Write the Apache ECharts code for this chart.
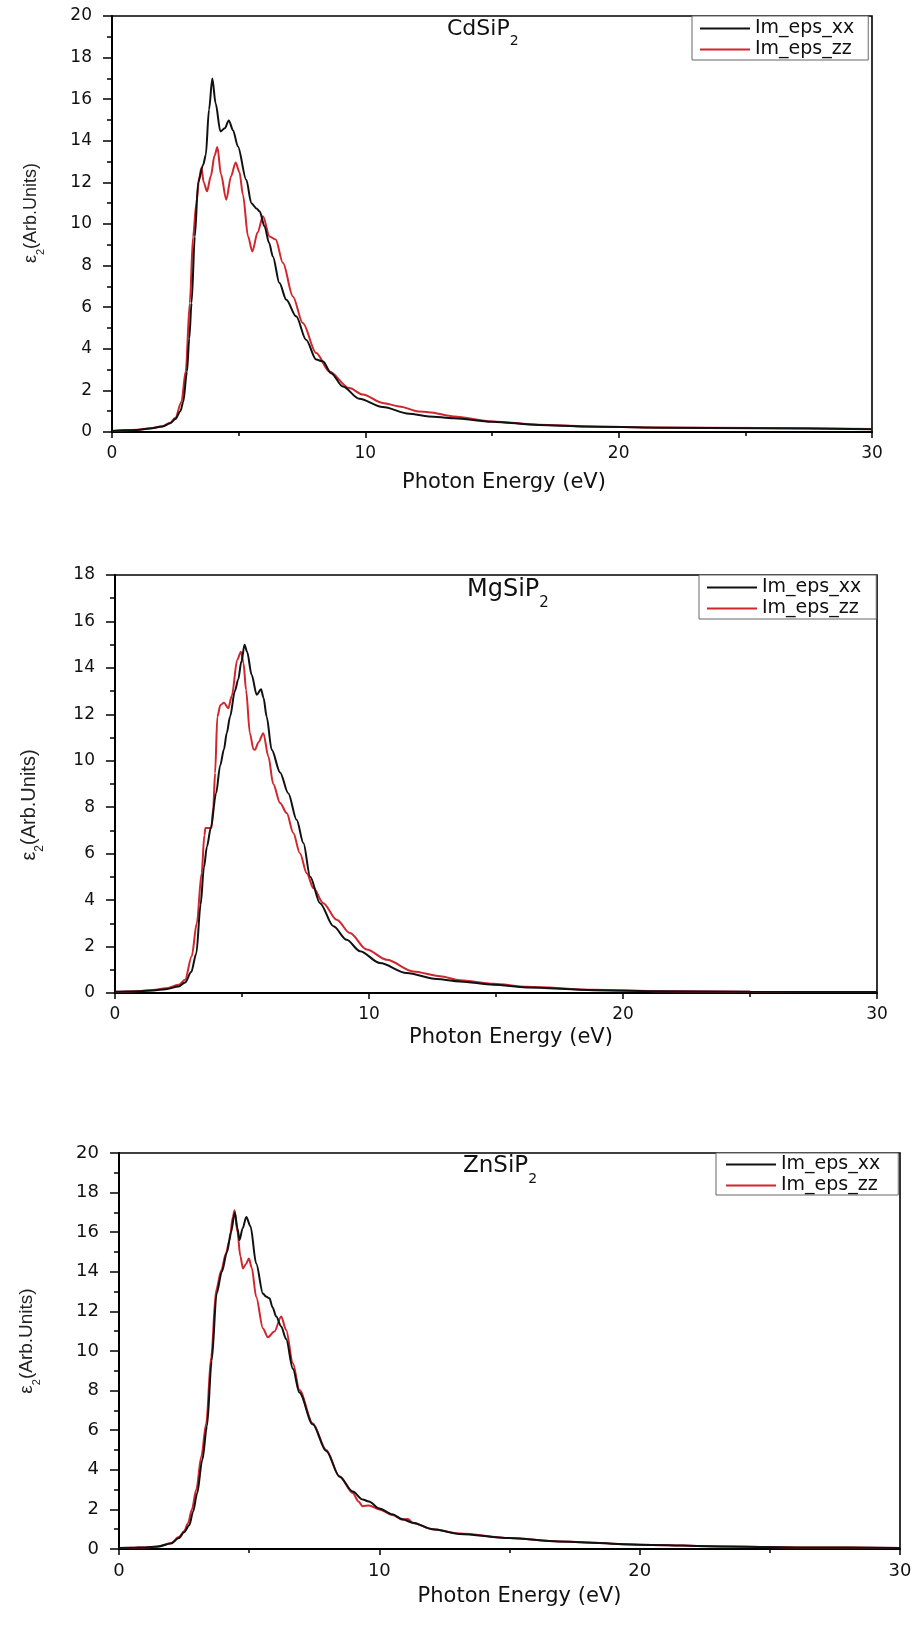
<!DOCTYPE html>
<html><head><meta charset="utf-8">
<script src="https://cdn.jsdelivr.net/npm/echarts@6/dist/echarts.min.js"></script>
<style>html,body{margin:0;padding:0;background:#fff}#c{width:920px;height:1642px}</style>
</head><body><div id="c"></div>
<script>
// ---- data (photon energy in eV, eps2 in arb. units) ----
const seriesNames = ['Im_eps_xx', 'Im_eps_zz'];
const xTicks = [0, 10, 20, 30];

const cdsip2XxEnergy = [0,0.5,1,1.5,2,2.3,2.5,2.7,2.81,2.96,3.05,3.14,3.27,3.4,3.6,3.7,3.83,3.96,4.09,4.28,4.45,4.61,4.78,4.97,5.3,5.5,5.7,5.83,6.02,6.2,6.35,6.61,6.88,7.27,7.66,8.06,8.32,8.65,9.11,9.76,10.68,11.73,12.5,13.5,15,16.85,18.7,21.6,25.5,30];
const cdsip2XxValues = [0.05,0.08,0.1,0.17,0.27,0.42,0.62,1.0,1.44,2.9,4.5,6.2,9.4,12.0,12.85,13.3,15.5,17.0,15.8,14.45,14.6,14.98,14.5,13.73,12.13,11.0,10.75,10.6,9.89,9.1,8.44,7.16,6.36,5.56,4.44,3.48,3.4,2.83,2.19,1.6,1.2,0.88,0.75,0.66,0.49,0.34,0.26,0.21,0.18,0.13];
const cdsip2ZzEnergy = [0,0.5,1,1.5,2,2.3,2.5,2.74,2.91,3.07,3.2,3.33,3.45,3.53,3.62,3.75,3.9,4.05,4.16,4.3,4.51,4.7,4.88,5.03,5.17,5.37,5.54,5.75,5.96,6.22,6.46,6.75,7.14,7.53,8.06,8.58,9.37,9.9,10.68,11.34,12.1,12.5,13.5,15,16.85,18.7,21.6,25.5,30];
const cdsip2ZzValues = [0.05,0.08,0.11,0.18,0.28,0.45,0.68,1.44,2.92,6.2,9.4,11.0,12.3,12.69,12.0,11.57,12.3,13.3,13.7,12.4,11.17,12.3,12.96,12.5,11.4,9.4,8.68,9.6,10.37,9.4,9.25,8.12,6.52,5.24,3.8,2.91,2.11,1.8,1.4,1.23,0.99,0.95,0.75,0.51,0.35,0.27,0.22,0.19,0.14];

const mgsip2XxEnergy = [0,0.5,1,1.5,2,2.5,2.76,3.0,3.2,3.37,3.5,3.62,3.77,3.98,4.14,4.29,4.4,4.53,4.72,4.85,4.98,5.1,5.2,5.38,5.58,5.75,5.85,5.97,6.17,6.5,6.82,7.15,7.42,7.68,8.07,8.6,9.12,9.65,10.43,11.48,12.66,13.58,14.9,16.2,18.85,21.5,25,30];
const mgsip2XxValues = [0.05,0.06,0.08,0.11,0.16,0.28,0.45,0.9,1.7,3.8,5.4,6.3,7.1,8.6,9.8,10.5,11.2,11.9,13.0,13.5,14.3,15.0,14.7,13.7,12.84,13.08,12.7,11.9,10.47,9.5,8.6,7.46,6.45,5.02,3.87,2.87,2.29,1.8,1.29,0.86,0.6,0.5,0.36,0.24,0.12,0.07,0.05,0.04];
const mgsip2ZzEnergy = [0,0.5,1,1.5,2,2.5,2.76,3.02,3.22,3.41,3.52,3.56,3.8,3.87,3.94,4.03,4.15,4.29,4.46,4.6,4.81,4.96,5.06,5.16,5.31,5.45,5.51,5.65,5.84,6.04,6.23,6.5,6.76,7.02,7.28,7.55,7.81,8.2,8.73,9.25,9.91,10.7,11.74,12.8,13.58,14.9,16.2,18.85,21.5,25,30];
const mgsip2ZzValues = [0.05,0.06,0.09,0.13,0.2,0.35,0.57,1.58,3.0,5.16,6.8,7.1,7.1,8.0,9.47,11.9,12.4,12.5,12.26,12.8,14.34,14.7,14.2,13.05,11.19,10.5,10.47,10.8,11.19,10.18,9.0,8.18,7.75,6.89,6.02,5.16,4.52,3.87,3.15,2.58,1.87,1.43,0.93,0.72,0.55,0.4,0.27,0.14,0.08,0.05,0.04];

const znsip2XxEnergy = [0,0.5,1,1.5,2,2.3,2.5,2.7,2.85,3.0,3.2,3.38,3.56,3.75,3.95,4.15,4.3,4.45,4.55,4.63,4.75,4.89,5.05,5.27,5.53,5.65,5.78,5.9,6.04,6.23,6.42,6.68,6.93,7.44,7.96,8.47,8.98,9.36,9.6,10.0,10.5,10.9,11.28,12.05,13.08,15,16.9,20,23.3,26.5,30];
const znsip2XxValues = [0.05,0.06,0.08,0.13,0.28,0.55,0.85,1.2,1.9,2.8,4.5,6.2,9.5,12.9,14.0,15.0,16.0,17.0,16.2,15.6,16.2,16.77,16.3,14.42,12.9,12.75,12.66,12.2,11.74,11.24,10.6,9.1,7.9,6.3,4.95,3.66,2.9,2.5,2.4,2.05,1.75,1.5,1.33,1.0,0.76,0.55,0.38,0.22,0.13,0.08,0.05];
const znsip2ZzEnergy = [0,0.5,1,1.5,2,2.3,2.5,2.65,2.8,2.97,3.16,3.35,3.54,3.73,3.93,4.1,4.25,4.37,4.44,4.55,4.66,4.76,4.88,4.99,5.1,5.27,5.53,5.72,5.97,6.23,6.42,6.68,6.93,7.44,7.96,8.47,8.98,9.2,9.36,9.6,10.0,10.5,10.9,11.1,11.28,12.05,13.08,15,16.9,20,23.3,26.5,30];
const znsip2ZzValues = [0.05,0.06,0.08,0.13,0.3,0.6,0.9,1.3,2.0,3.0,4.66,6.34,9.7,13.07,14.08,14.9,15.6,16.77,17.11,16.0,14.8,14.17,14.4,14.67,14.2,12.73,11.14,10.69,10.98,11.74,11.06,9.38,8.03,6.35,5.0,3.66,2.83,2.4,2.16,2.2,2.0,1.72,1.48,1.52,1.31,1.0,0.78,0.55,0.38,0.22,0.13,0.08,0.05];

const panelLabels = ['CdSiP', 'MgSiP', 'ZnSiP'];
const yMaxes = [20, 18, 20];

// ---- build ----
function zip(xs, ys) { return xs.map((x, i) => [x, ys[i]]); }
const panelData = [
  [zip(cdsip2XxEnergy, cdsip2XxValues), zip(cdsip2ZzEnergy, cdsip2ZzValues)],
  [zip(mgsip2XxEnergy, mgsip2XxValues), zip(mgsip2ZzEnergy, mgsip2ZzValues)],
  [zip(znsip2XxEnergy, znsip2XxValues), zip(znsip2ZzEnergy, znsip2ZzValues)]
];

const layout = [
  {left:112, top:16, width:760, height:416, tickFs:17, nameGap:40, xShift:24, yGap:68, yFs:18, yPad:[0,0,0,22],
   titleLeft:447, titleTop:18, titleFs:22, legLeft:692, legTop:16, legPad:[3,14,1,8]},
  {left:115, top:575, width:762, height:418, tickFs:17, nameGap:34, xShift:30, yGap:72, yFs:20, yPad:[0,42,0,0],
   titleLeft:467, titleTop:578, titleFs:24, legLeft:699, legTop:575, legPad:[3,15,1,8]},
  {left:119, top:1153, width:781, height:396, tickFs:18, nameGap:37, xShift:20, yGap:79, yFs:19, yPad:[0,0,0,20],
   titleLeft:463, titleTop:1155, titleFs:23, legLeft:716, legTop:1153, legPad:[2,18,0,10]}
];

const FONT = 'DejaVu Sans';
const grids = [], xAxes = [], yAxes = [], series = [], titles = [], legends = [];
const colors = ['#111111', '#d0262d'];

layout.forEach((L, i) => {
  grids.push({left:L.left, top:L.top, width:L.width, height:L.height, show:true,
    borderColor:'#000', borderWidth:1.6, backgroundColor:'transparent'});
  xAxes.push({type:'value', gridIndex:i, min:xTicks[0], max:xTicks[xTicks.length-1], interval:10,
    name:'Photon Energy (eV)', nameLocation:'middle', nameGap:L.nameGap,
    nameTextStyle:{fontFamily:FONT, fontSize:21, color:'#111', padding:[0,0,0,L.xShift]},
    axisLine:{show:true, onZero:false, lineStyle:{color:'#000', width:2}},
    axisTick:{show:true, length:6, lineStyle:{color:'#000', width:1.5}},
    minorTick:{show:true, splitNumber:2, length:4, lineStyle:{color:'#000', width:1.5}},
    axisLabel:{fontFamily:FONT, fontSize:L.tickFs, color:'#111', margin:13},
    splitLine:{show:false}, minorSplitLine:{show:false}});
  yAxes.push({type:'value', gridIndex:i, min:0, max:yMaxes[i], interval:2,
    name:'{e|ε}{s|2}{t|(Arb.Units)}', nameLocation:'middle', nameGap:L.yGap, nameRotate:90,
    nameTextStyle:{padding:L.yPad, rich:{
      e:{fontFamily:'Liberation Sans', fontSize:L.yFs, color:'#222', lineHeight:L.yFs+4, verticalAlign:'top'},
      s:{fontFamily:'Liberation Sans', fontSize:Math.round(L.yFs*0.6), color:'#222', lineHeight:11, padding:[L.yFs*0.75,0,0,0], verticalAlign:'top'},
      t:{fontFamily:'Liberation Sans', fontSize:L.yFs, color:'#222', lineHeight:L.yFs+4, verticalAlign:'top'}}},
    axisLine:{show:true, onZero:false, lineStyle:{color:'#000', width:2}},
    axisTick:{show:true, length:9, lineStyle:{color:'#000', width:1.5}},
    minorTick:{show:true, splitNumber:2, length:5, lineStyle:{color:'#000', width:1.5}},
    axisLabel:{fontFamily:FONT, fontSize:L.tickFs, color:'#111', margin:20},
    splitLine:{show:false}, minorSplitLine:{show:false}});
  seriesNames.forEach((nm, k) => {
    series.push({type:'line', name:nm, xAxisIndex:i, yAxisIndex:i, data:panelData[i][k],
      symbol:'none', smooth:0.3, smoothMonotone:'x', z: k === 0 ? 3 : 2,
      lineStyle:{color:colors[k], width:2}, itemStyle:{color:colors[k]}});
  });
  titles.push({text:'{a|' + panelLabels[i] + '}{s|2}', left:L.titleLeft, top:L.titleTop, padding:0,
    textStyle:{fontWeight:'normal', rich:{
      a:{fontFamily:FONT, fontWeight:'normal', fontSize:L.titleFs, color:'#111', lineHeight:L.titleFs+3, verticalAlign:'top'},
      s:{fontFamily:FONT, fontWeight:'normal', fontSize:Math.round(L.titleFs*0.62), color:'#111', lineHeight:12, padding:[L.titleFs*0.75,0,0,0], verticalAlign:'top'}}}});
  legends.push({data:seriesNames, orient:'vertical', left:L.legLeft, top:L.legTop, padding:L.legPad,
    icon:'rect', itemWidth:50, itemHeight:2, itemGap:2, selectedMode:false,
    backgroundColor:'#fff', borderColor:'#666', borderWidth:1,
    textStyle:{fontFamily:FONT, fontSize:19, color:'#111', lineHeight:19}});
});

const chart = echarts.init(document.getElementById('c'), null, {renderer:'canvas'});
chart.setOption({animation:false, backgroundColor:'#fff', grid:grids, xAxis:xAxes, yAxis:yAxes,
  series:series, title:titles, legend:legends});
</script></body></html>
